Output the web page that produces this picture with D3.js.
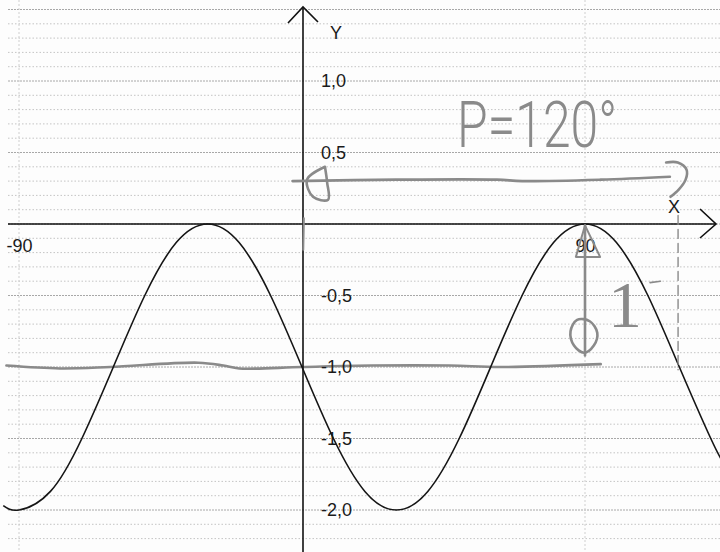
<!DOCTYPE html>
<html><head><meta charset="utf-8">
<script src="https://cdn.jsdelivr.net/npm/d3@7"></script>
<style>html,body{margin:0;padding:0;background:#fdfdfd;}svg{display:block;}</style>
</head><body>
<script>
// ---- data ----
const curveX = [-95,-90,-80,-70,-60,-50,-40,-30,-20,-10,0,10,20,30,40,50,60,70,80,90,100,110,120,130,134];
const curveY = [-1.97,-2.00,-1.87,-1.50,-1.00,-0.50,-0.13,0.00,-0.13,-0.50,-1.00,-1.50,-1.87,-2.00,-1.87,-1.50,-1.00,-0.50,-0.13,0.00,-0.13,-0.50,-1.00,-1.50,-1.67];
const yTickValues = [1.0, 0.5, -0.5, -1.0, -1.5, -2.0];
const xTickValues = [-90, 90];
const gridY = d3.range(-23, 16).map(d => d / 10);
const gridX = [-90, 90];
// hand-drawn annotations (data units)
const midLineX = [-94, -77, -61, -33, -25, -20, 0, 22, 47, 63, 95];
const midLineY = [-0.99, -1.01, -1.00, -0.97, -0.99, -1.01, -1.00, -0.99, -0.99, -1.00, -0.98];
const periodX = [-3, 30, 62, 70, 95, 117];
const periodY = [0.30, 0.31, 0.31, 0.30, 0.31, 0.33];
const periodHeadX = [115.8, 119.5, 122.3, 122.0, 119.8, 117.2];
const periodHeadY = [0.43, 0.43, 0.38, 0.31, 0.24, 0.19];
const loopX = [7.3, 1.6, 3.5, 8.3, 8.0, 7.3];
const loopY = [0.40, 0.31, 0.19, 0.17, 0.29, 0.40];
const ampX = [90, 90];
const ampY = [-0.01, -0.92];
const ampHeadX = [90, 87.1, 94.8, 90];
const ampHeadY = [-0.01, -0.23, -0.23, -0.01];
const ampTailX = [85.4, 87.5, 91.5, 93.9, 92.8, 89.7, 86.5];
const ampTailY = [-0.75, -0.67, -0.68, -0.76, -0.85, -0.90, -0.85];
const dashX = [119.6, 119.6];
const dashY = [0.06, -1.02];
const periodLabel = {x: 49.3, y: 0.54, text: "P=120°"};
const ampLabel = {x: 97.3, y: -0.72, text: "1"};

// ---- drawing ----
const W = 720, H = 552;
const x = d3.scaleLinear().domain([-90, 90]).range([19, 585]);
const y = d3.scaleLinear().domain([0, -1]).range([224, 367]);
const svg = d3.select("body").append("svg").attr("width", W).attr("height", H);
svg.append("rect").attr("width", W).attr("height", H).attr("fill", "#fdfdfd");

// grid
svg.append("g").selectAll("line").data(gridY).join("line")
  .attr("x1", 8).attr("x2", W).attr("y1", d => y(d)).attr("y2", d => y(d))
  .attr("stroke", d => Math.abs(Math.round(d * 10)) % 5 === 0 ? "#a8a8a8" : "#c4c4c4")
  .attr("stroke-width", 1)
  .attr("stroke-dasharray", d => Math.abs(Math.round(d * 10)) % 5 === 0 ? "2,1" : "1.5,2");
svg.append("g").selectAll("line").data(gridX).join("line")
  .attr("x1", d => x(d)).attr("x2", d => x(d)).attr("y1", 0).attr("y2", H)
  .attr("stroke", "#cfcfcf").attr("stroke-width", 1).attr("stroke-dasharray", "2,2");

const gray = "#8a8a8a";
const L = (xs, ys, c) => d3.line().curve(c || d3.curveCatmullRom)(xs.map((v, i) => [x(v), y(ys[i])]));

// gray mid line
svg.append("path").attr("d", L(midLineX, midLineY)).attr("fill", "none")
  .attr("stroke", gray).attr("stroke-width", 2.6).attr("stroke-linecap", "round");

// axes
const x0 = x(0) + 1, y0 = y(0);
svg.append("line").attr("x1", 8).attr("x2", 716).attr("y1", y0).attr("y2", y0)
  .attr("stroke", "#111").attr("stroke-width", 1.6);
svg.append("line").attr("x1", x0).attr("x2", x0).attr("y1", 7).attr("y2", H)
  .attr("stroke", "#111").attr("stroke-width", 1.6);
svg.append("path").attr("d", `M${x0-15},${23}L${x0},7L${x0+15},22`)
  .attr("fill", "none").attr("stroke", "#111").attr("stroke-width", 1.6);
svg.append("path").attr("d", `M700,${y0-15}L716,${y0}L700,${y0+14}`)
  .attr("fill", "none").attr("stroke", "#111").attr("stroke-width", 1.6);

const fmt = d => d3.format(".1f")(d).replace(".", ",").replace("\u2212", "-");
const yAxis = svg.append("g").attr("transform", `translate(${x0},0)`)
  .call(d3.axisRight(y).tickValues(yTickValues).tickSize(0).tickPadding(18).tickFormat(fmt));
const xAxis = svg.append("g").attr("transform", `translate(0,${y0})`)
  .call(d3.axisBottom(x).tickValues(xTickValues).tickSize(0).tickPadding(15).tickFormat(d => String(d).replace("\u2212", "-")));
[yAxis, xAxis].forEach(g => {
  g.select(".domain").remove();
  g.selectAll("text").attr("font-family", "Liberation Sans, Arial, sans-serif")
    .attr("font-size", 18).attr("fill", "#1a1a1a");
});
svg.append("text").attr("x", 330).attr("y", 39).text("Y")
  .attr("font-family", "Liberation Sans, Arial, sans-serif").attr("font-size", 18).attr("fill", "#1a1a1a");
svg.append("text").attr("x", 668).attr("y", 213).text("X")
  .attr("font-family", "Liberation Sans, Arial, sans-serif").attr("font-size", 18).attr("fill", "#1a1a1a");

// curve
svg.append("path").attr("d", L(curveX, curveY, d3.curveNatural)).attr("fill", "none")
  .attr("stroke", "#151515").attr("stroke-width", 1.6);

// annotations
const ann = svg.append("g").attr("fill", "none").attr("stroke", gray)
  .attr("stroke-width", 2.6).attr("stroke-linecap", "round").attr("stroke-linejoin", "round");
ann.append("path").attr("d", L(periodX, periodY));
ann.append("path").attr("d", L(periodHeadX, periodHeadY));
ann.append("path").attr("d", L(loopX, loopY));
ann.append("path").attr("d", L(ampX, ampY, d3.curveLinear));
ann.append("path").attr("d", L(ampHeadX, ampHeadY, d3.curveLinear)).attr("stroke-width", 2);
ann.append("path").attr("d", d3.line().curve(d3.curveCatmullRomClosed)(ampTailX.map((v, i) => [x(v), y(ampTailY[i])])));
ann.append("path").attr("d", L(dashX, dashY, d3.curveLinear)).attr("stroke-width", 1.4)
  .attr("stroke-dasharray", "9,5");
ann.append("path").attr("d", L([0.6, 0.4], [0.04, -0.18], d3.curveLinear)).attr("stroke-width", 2);
ann.append("path").attr("d", L([110.7, 114.0], [-0.41, -0.40], d3.curveLinear)).attr("stroke-width", 1.6);

svg.append("text").attr("x", x(periodLabel.x)).attr("y", y(periodLabel.y)).text(periodLabel.text)
  .attr("font-family", "Roboto, Inter, sans-serif").attr("font-weight", 300)
  .attr("font-size", 64).attr("fill", gray)
  .attr("textLength", 160).attr("lengthAdjust", "spacingAndGlyphs");
svg.append("text").attr("x", x(ampLabel.x)).attr("y", y(ampLabel.y)).text(ampLabel.text)
  .attr("font-family", "Liberation Serif, serif").attr("font-size", 66).attr("fill", gray)
  .attr("textLength", 34).attr("lengthAdjust", "spacingAndGlyphs");
</script>
</body></html>
